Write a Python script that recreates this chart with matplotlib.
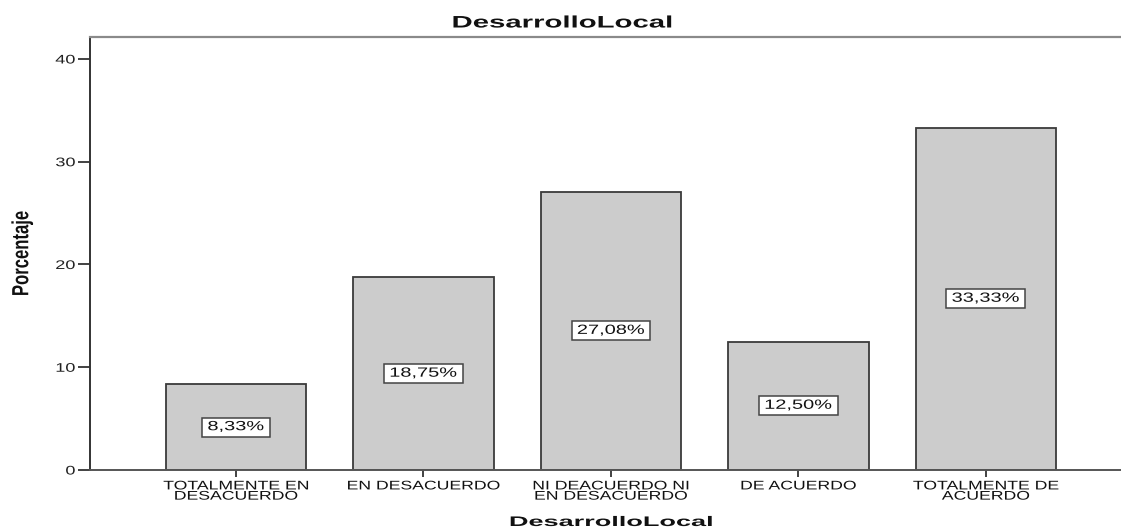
import matplotlib
matplotlib.use("Agg")
import matplotlib.pyplot as plt
from matplotlib.patheffects import AbstractPathEffect
from matplotlib.transforms import Affine2D

# Data
categories = ["TOTALMENTE EN\nDESACUERDO", "EN DESACUERDO",
              "NI DEACUERDO NI\nEN DESACUERDO", "DE ACUERDO",
              "TOTALMENTE DE\nACUERDO"]
percentages = [8.33, 18.75, 27.08, 12.50, 33.33]
y_ticks = [0, 10, 20, 30, 40]

plt.rcParams["font.family"] = ["Liberation Sans", "DejaVu Sans"]


class Widen(AbstractPathEffect):
    """Stretch a drawn path horizontally around a chosen anchor."""

    def __init__(self, sx, anchor="center"):
        super().__init__()
        self.sx = sx
        self.anchor = anchor

    def draw_path(self, renderer, gc, tpath, affine, rgbFace=None):
        ext = tpath.get_extents(affine)
        if self.anchor == "right":
            cx = ext.x1
        elif self.anchor == "left":
            cx = ext.x0
        else:
            cx = 0.5 * (ext.x0 + ext.x1)
        tr = affine + Affine2D().translate(-cx, 0).scale(self.sx, 1).translate(cx, 0)
        renderer.draw_path(gc, tpath, tr, rgbFace)


W, H = 1121, 529
fig = plt.figure(figsize=(W / 100, H / 100), dpi=100)
ax = fig.add_axes([90 / W, (H - 470) / H, (1132 - 90) / W, (470 - 37) / H])

x = list(range(len(categories)))
ax.bar(x, percentages, width=0.75, color="#cccccc", edgecolor="#3a3a3a",
       linewidth=1.3, zorder=2)

for xi, v in zip(x, percentages):
    label = f"{v:.2f}%".replace(".", ",")
    t = ax.text(xi, v / 2, label, ha="center", va="center", fontsize=9.6,
                color="#111111", zorder=3,
                bbox=dict(boxstyle="square,pad=0.26", facecolor="white",
                          edgecolor="#444444", linewidth=1.1))
    t.set_path_effects([Widen(1.5)])
    t.get_bbox_patch().set_path_effects([Widen(1.5)])

ax.set_xlim(-0.779, 4.78)
ax.set_ylim(0, 42.14)
ax.set_yticks(y_ticks)
ax.set_yticklabels([str(v) for v in y_ticks])
ax.set_xticks(x)
ax.set_xticklabels(categories, linespacing=0.8)

ax.tick_params(axis="y", direction="out", length=8.6, width=1.3,
               color="#333333", labelsize=9, labelcolor="#222222", pad=2)
ax.tick_params(axis="x", direction="out", length=5, width=1.3,
               color="#333333", labelsize=9, labelcolor="#111111", pad=2.5)

for lbl in ax.get_yticklabels():
    lbl.set_path_effects([Widen(1.45, "right")])
for lbl in ax.get_xticklabels():
    lbl.set_path_effects([Widen(1.41)])

ax.spines["right"].set_visible(False)
ax.spines["left"].set_color("#333333")
ax.spines["left"].set_linewidth(1.4)
ax.spines["bottom"].set_color("#555555")
ax.spines["bottom"].set_linewidth(1.4)
ax.spines["top"].set_color("#8a8a8a")
ax.spines["top"].set_linewidth(1.6)

ylab = ax.set_ylabel("Porcentaje", fontsize=12, fontweight="bold",
                     color="#111111", va="center")
ax.yaxis.set_label_coords((22 - 90) / (1132 - 90), 0.5)
ylab.set_path_effects([Widen(1.4)])

xlab = ax.set_xlabel("DesarrolloLocal", fontsize=10, fontweight="bold",
                     color="#111111", va="center")
ax.xaxis.set_label_coords(0.5, (470 - 522) / (470 - 37))
xlab.set_path_effects([Widen(1.95)])

ttl = fig.text(562 / W, 1 - 23 / H, "DesarrolloLocal", ha="center",
               va="center", fontsize=12, fontweight="bold", color="#111111")
ttl.set_path_effects([Widen(1.76)])

fig.savefig("out.png", dpi=100)
